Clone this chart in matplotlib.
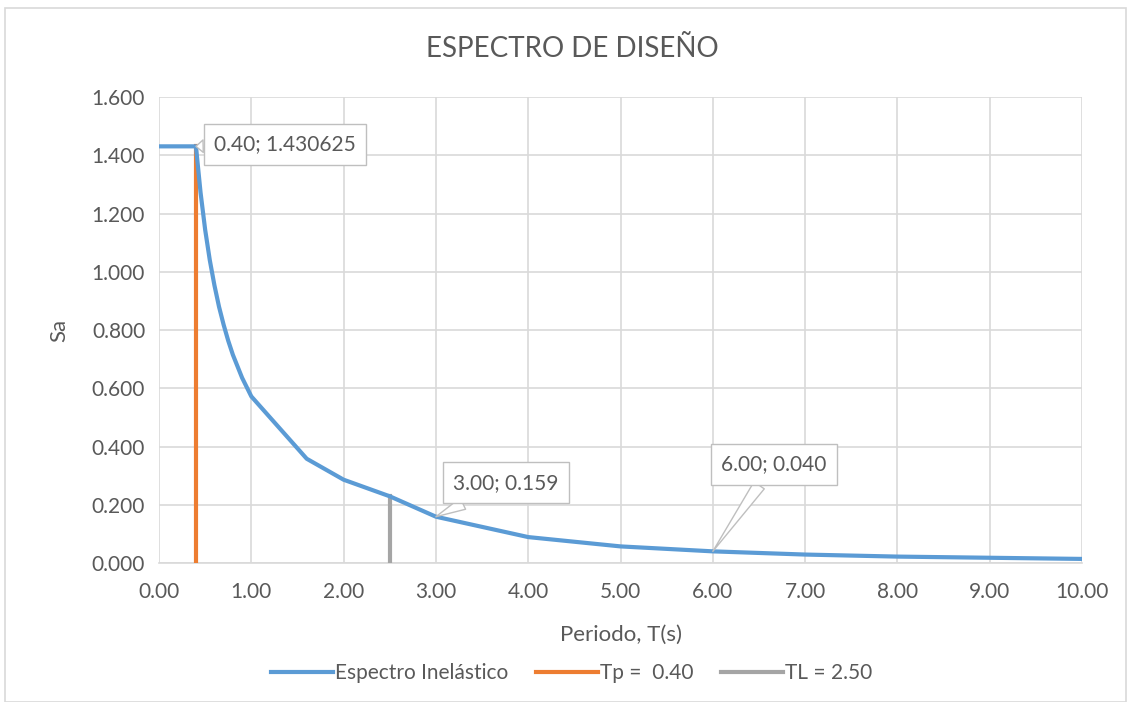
import matplotlib
matplotlib.use("Agg")
import matplotlib.pyplot as plt
from matplotlib.patches import Rectangle

# ==========================================
# Datos
# ==========================================
periodo = [0.0, 0.4, 0.45, 0.5, 0.55, 0.6, 0.65, 0.7, 0.75, 0.8, 0.9, 1.0,
           1.6, 2.0, 2.5, 3.0, 4.0, 5.0, 6.0, 7.0, 8.0, 9.0, 10.0]
sa = [1.430625, 1.430625, 1.272, 1.144, 1.040, 0.954, 0.880, 0.818, 0.763,
      0.715, 0.636, 0.572, 0.358, 0.286, 0.229, 0.159, 0.089, 0.057, 0.040,
      0.029, 0.022, 0.018, 0.014]

tp_x = [0.4, 0.4]
tp_y = [0.0, 1.430625]
tl_x = [2.5, 2.5]
tl_y = [0.0, 0.229]

etiquetas = [(0.4, 1.430625, "0.40; 1.430625", (89, 2)),
             (3.0, 0.159, "3.00; 0.159", (70, 34)),
             (6.0, 0.040, "6.00; 0.040", (61, 87))]

x_ticks = [0, 1, 2, 3, 4, 5, 6, 7, 8, 9, 10]
y_ticks = [0.0, 0.2, 0.4, 0.6, 0.8, 1.0, 1.2, 1.4, 1.6]

AZUL = "#5B9BD5"
NARANJA = "#ED7D31"
GRIS = "#A5A5A5"
TEXTO = "#595959"
REJILLA = "#D9D9D9"

plt.rcParams['font.family'] = ['Lato', 'DejaVu Sans']

fig = plt.figure(figsize=(11.31, 7.02), dpi=100)
ax = fig.add_axes([0.1406, 0.198, 0.8161, 0.6638])

ax.plot(periodo, sa, color=AZUL, lw=3, label="Espectro Inelástico", zorder=4,
        solid_joinstyle='round')
ax.plot(tp_x, tp_y, color=NARANJA, lw=3, label="Tp =  0.40", zorder=3)
ax.plot(tl_x, tl_y, color=GRIS, lw=3, label="TL = 2.50", zorder=3)

for x, y, txt, off in etiquetas:
    ax.annotate(txt, xy=(x, y), xytext=off, textcoords='offset pixels',
                ha='center', va='center', fontsize=15, color=TEXTO, zorder=6,
                bbox=dict(boxstyle='square,pad=0.5', fc='white', ec='#BFBFBF', lw=1),
                arrowprops=dict(arrowstyle='wedge,tail_width=0.6', fc='white',
                                ec='#BFBFBF', lw=1, shrinkA=0, shrinkB=0))

ax.set_xlim(0, 10)
ax.set_ylim(0, 1.6)
ax.set_xticks(x_ticks)
ax.set_xticklabels([f"{v:.2f}" for v in x_ticks])
ax.set_yticks(y_ticks)
ax.set_yticklabels([f"{v:.3f}" for v in y_ticks])
ax.tick_params(length=0, labelsize=15, labelcolor=TEXTO)
ax.tick_params(axis='x', pad=14)
ax.tick_params(axis='y', pad=10)
ax.grid(True, color=REJILLA, lw=1.2)
ax.set_axisbelow(True)
for lado in ['top', 'right', 'left']:
    ax.spines[lado].set_visible(False)
ax.spines['bottom'].set_color(REJILLA)
ax.spines['bottom'].set_linewidth(1.2)

ax.set_xlabel("Periodo, T(s)", fontsize=16, color=TEXTO, labelpad=16)
ax.set_ylabel("Sa", fontsize=16, color=TEXTO, labelpad=16)
fig.text(0.506, 0.93, "ESPECTRO DE DISEÑO", ha='center', va='center',
         fontsize=20, color=TEXTO)

ax.legend(loc='upper center', bbox_to_anchor=(0.447, -0.175), ncol=3,
          frameon=False, fontsize=15, handlelength=3.0, handletextpad=0.1,
          columnspacing=1.3, labelcolor=TEXTO)

fig.patches.append(Rectangle((0.004, 0.0), 0.992, 0.988, transform=fig.transFigure,
                             fill=False, ec=REJILLA, lw=1.2))

fig.savefig("out.png", dpi=100)
